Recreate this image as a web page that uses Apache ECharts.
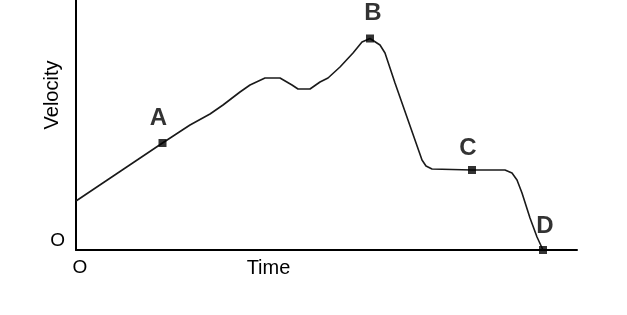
<!DOCTYPE html>
<html>
<head>
<meta charset="utf-8">
<script src="https://cdn.jsdelivr.net/npm/echarts@6/dist/echarts.min.js"></script>
<style>html,body{margin:0;padding:0;background:#fff;}#c{width:627px;height:315px;}</style>
</head>
<body>
<div id="c"></div>
<script>
// Curve samples (time, velocity) in arbitrary units
var curveTime = [0, 86.5, 114, 134, 147, 164, 174, 189, 204, 216, 222, 234, 244, 252, 264, 277, 286, 294, 304, 309, 319, 346, 350, 356, 396, 429, 436, 441, 446, 454, 461, 467];
var curveVel  = [49, 107, 125, 136, 145, 158, 165, 172, 172, 165, 161, 161, 168, 172, 183, 197, 208, 211.5, 205, 197, 167, 90, 84, 81, 80, 80, 77, 70, 57, 32, 13, 0];
// Labelled points
var pointNames = ['A', 'B', 'C', 'D'];
var pointTime  = [86.5, 294, 396, 467];
var pointVel   = [107, 211.5, 80, 0];
// Axis tick labels
var xTickLabels = ['O'];
var yTickLabels = ['O'];
var xAxisName = 'Time';
var yAxisName = 'Velocity';

var labelOffsets = {A: [-4, -2], B: [3, -2], C: [-4, 1], D: [2, -1]};

var chart = echarts.init(document.getElementById('c'), null, {renderer: 'canvas'});
var font = 'Liberation Sans, Arial, sans-serif';
chart.setOption({
  animation: false,
  backgroundColor: '#fff',
  grid: {left: 76, top: 0, width: 501, height: 250, containLabel: false},
  xAxis: {
    type: 'value', min: 0, max: 501, interval: 501,
    name: xAxisName, nameLocation: 'middle', nameGap: 8, nameMoveOverlap: false,
    nameTextStyle: {color: '#000', fontFamily: font, fontSize: 20, padding: [0, 116, 0, 0], verticalAlign: 'top'},
    axisLine: {show: true, lineStyle: {color: '#000', width: 2}},
    axisTick: {show: false},
    splitLine: {show: false},
    axisLabel: {
      show: true, margin: 8, color: '#000', fontFamily: font, fontSize: 19, align: 'center', padding: [0, 0, 0, 8],
      formatter: function (v) { return v === 0 ? xTickLabels[0] : ''; }
    }
  },
  yAxis: {
    type: 'value', min: 0, max: 250, interval: 250,
    name: yAxisName, nameLocation: 'middle', nameGap: 14, nameRotate: 90, nameMoveOverlap: false,
    nameTextStyle: {color: '#000', fontFamily: font, fontSize: 20, padding: [0, 0, 0, 60]},
    axisLine: {show: true, lineStyle: {color: '#000', width: 2}},
    axisTick: {show: false},
    splitLine: {show: false},
    axisLabel: {
      show: true, margin: 11, color: '#000', fontFamily: font, fontSize: 19, verticalAlign: 'bottom',
      formatter: function (v) { return v === 0 ? yTickLabels[0] : ''; }
    }
  },
  series: [
    {
      type: 'line',
      data: curveTime.map(function (t, i) { return [t, curveVel[i]]; }),
      smooth: false,
      showSymbol: false,
      lineStyle: {color: '#1a1a1a', width: 1.6},
      z: 2
    },
    {
      type: 'scatter',
      data: pointNames.map(function (n, i) { return {name: n, value: [pointTime[i], pointVel[i]]}; }),
      symbol: 'rect',
      symbolSize: 8,
      itemStyle: {color: '#000'},
      label: {
        show: true, position: 'top', distance: 7,
        formatter: function (p) { return p.name; },
        color: '#000', fontFamily: font, fontWeight: 'bold', fontSize: 24
      },
      z: 3
    }
  ]
});
var opt = chart.getOption();
opt.series[1].data = opt.series[1].data.map(function (d) {
  return {name: d.name, value: d.value, label: {offset: labelOffsets[d.name]}};
});
chart.setOption({series: [{}, {data: opt.series[1].data}]});
</script>
</body>
</html>
